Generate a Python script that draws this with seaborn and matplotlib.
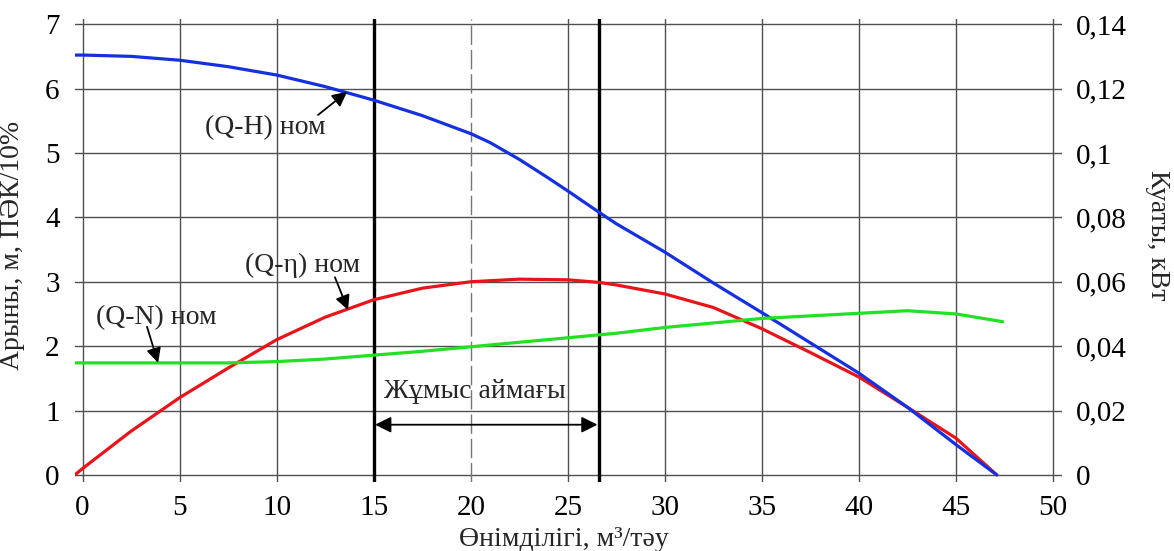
import numpy as np
import pandas as pd
import matplotlib
matplotlib.use("Agg")
import matplotlib.pyplot as plt
import seaborn as sns

# flow, m3/h
q_h = [-0.4, 0, 2.5, 5, 7.5, 10, 12.5, 15, 17.5, 20, 21, 22.5, 24, 25, 26.6,
       27.5, 30, 32.5, 35, 37.5, 40, 42.5, 45, 47.1]
head = [6.52, 6.52, 6.50, 6.44, 6.34, 6.21, 6.03, 5.82, 5.58, 5.30, 5.16, 4.90,
        4.61, 4.41, 4.08, 3.90, 3.46, 2.98, 2.52, 2.05, 1.58, 1.05, 0.47, 0.0]

q_eta = [-0.4, 0, 2.5, 5, 7.5, 10, 12.5, 15, 17.5, 20, 22.5, 25, 26.6, 27.5,
         30, 32.5, 35, 37.5, 40, 42.5, 45, 47.1]
eta = [0.0, 0.1, 0.68, 1.2, 1.66, 2.1, 2.45, 2.72, 2.9, 3.0, 3.04, 3.03, 2.99,
       2.95, 2.81, 2.6, 2.27, 1.9, 1.52, 1.05, 0.57, 0.0]

q_n = [-0.4, 2.5, 5, 7.5, 10, 12.5, 15, 17.5, 20, 22.5, 25, 27.5, 30, 32.5,
       35, 37.5, 40, 42.5, 45, 47.4]
power = [0.0348, 0.0348, 0.0348, 0.0348, 0.0352, 0.036, 0.0372, 0.0384, 0.0398,
         0.0412, 0.0426, 0.044, 0.0458, 0.0472, 0.0486, 0.0494, 0.0502, 0.051,
         0.050, 0.0476]

zone_start, zone_end, zone_mid = 15, 26.6, 20
x_ticks = [0, 5, 10, 15, 20, 25, 30, 35, 40, 45, 50]
y_ticks = [0, 1, 2, 3, 4, 5, 6, 7]
y2_ticks = [0, 0.02, 0.04, 0.06, 0.08, 0.1, 0.12, 0.14]

sns.set_theme(style="white")
plt.rcParams["font.family"] = ["Liberation Serif", "DejaVu Serif"]

fig, ax = plt.subplots(figsize=(11.74, 5.51), dpi=100)
fig.subplots_adjust(left=0.0639, right=0.9046, top=0.9655, bottom=0.1252)

ax.set_xlim(-0.39, 50.46)
ax.set_ylim(-0.11, 7.08)
ax.set_xticks(x_ticks)
ax.set_yticks(y_ticks)
for s in ax.spines.values():
    s.set_visible(False)

grid_c = "#505050"
for y in y_ticks:
    ax.axhline(y, color=grid_c, lw=1.0, zorder=1)
for x in x_ticks:
    if x == zone_mid:
        ax.axvline(x, color="#777777", lw=1.0, ls=(0, (14, 3.5)), zorder=1)
    else:
        ax.axvline(x, color=grid_c, lw=1.0, zorder=1)
for x in (zone_start, zone_end):
    ax.axvline(x, color="black", lw=2.4, zorder=2)

df_h = pd.DataFrame({"Q": q_h, "H": head})
df_e = pd.DataFrame({"Q": q_eta, "eta": eta})
sns.lineplot(data=df_e, x="Q", y="eta", ax=ax, color="#e8141a", lw=2.3,
             sort=False, zorder=4)
sns.lineplot(data=df_h, x="Q", y="H", ax=ax, color="#1530e0", lw=2.3,
             sort=False, zorder=5)

ax.tick_params(axis="both", length=0, labelsize=21, colors="black")
ax.tick_params(axis="x", pad=9)
ax.tick_params(axis="y", pad=11)
ax.set_xlabel("Өнімділігі, м³/тәу", fontsize=20)
ax.xaxis.set_label_coords(0.495, -0.097)
ax.set_ylabel("Арыны, м, ПӘК/10%", fontsize=20)
ax.yaxis.set_label_coords(-0.0507, 0.51)

ax2 = ax.twinx()
ax2.set_ylim(-0.11 * 0.02, 7.08 * 0.02)
ax2.set_yticks(y2_ticks)
ax2.set_yticklabels([f"{v:g}".replace(".", ",") for v in y2_ticks])
for s in ax2.spines.values():
    s.set_visible(False)
ax2.grid(False)
df_n = pd.DataFrame({"Q": q_n, "N": power})
sns.lineplot(data=df_n, x="Q", y="N", ax=ax2, color="#22e022", lw=2.3,
             sort=False, zorder=3)
ax2.tick_params(axis="y", length=0, labelsize=21, pad=10, colors="black")
ax2.set_ylabel("Куаты, кВт", fontsize=20, rotation=270, va="center")
ax2.yaxis.set_label_coords(1.097, 0.533)
ax2.set_xlabel("")

arrow = dict(arrowstyle="-|>", color="black", lw=1.3, shrinkA=0, shrinkB=0,
             mutation_scale=22)
ax2.text(9.4, 5.39 * 0.02, "(Q-H) ном", fontsize=20, ha="center", va="center")
ax2.annotate("", xy=(13.63, 5.95 * 0.02), xytext=(12.13, 5.59 * 0.02),
             arrowprops=arrow)
ax2.text(11.33, 3.26 * 0.02, "(Q-η) ном", fontsize=20, ha="center", va="center")
ax2.annotate("", xy=(13.68, 2.56 * 0.02), xytext=(13.0, 3.07 * 0.02),
             arrowprops=arrow)
ax2.text(3.79, 2.45 * 0.02, "(Q-N) ном", fontsize=20, ha="center", va="center")
ax2.annotate("", xy=(3.89, 1.74 * 0.02), xytext=(3.32, 2.30 * 0.02),
             arrowprops=arrow)

ax2.text(20.2, 1.29 * 0.02, "Жұмыс аймағы", fontsize=20, ha="center",
         va="center")
ax2.annotate("", xy=(zone_start, 0.78 * 0.02), xytext=(zone_end, 0.78 * 0.02),
             arrowprops=dict(arrowstyle="<|-|>", color="black", lw=1.3,
                             shrinkA=1, shrinkB=1, mutation_scale=24))

fig.savefig("out.png", dpi=100)
